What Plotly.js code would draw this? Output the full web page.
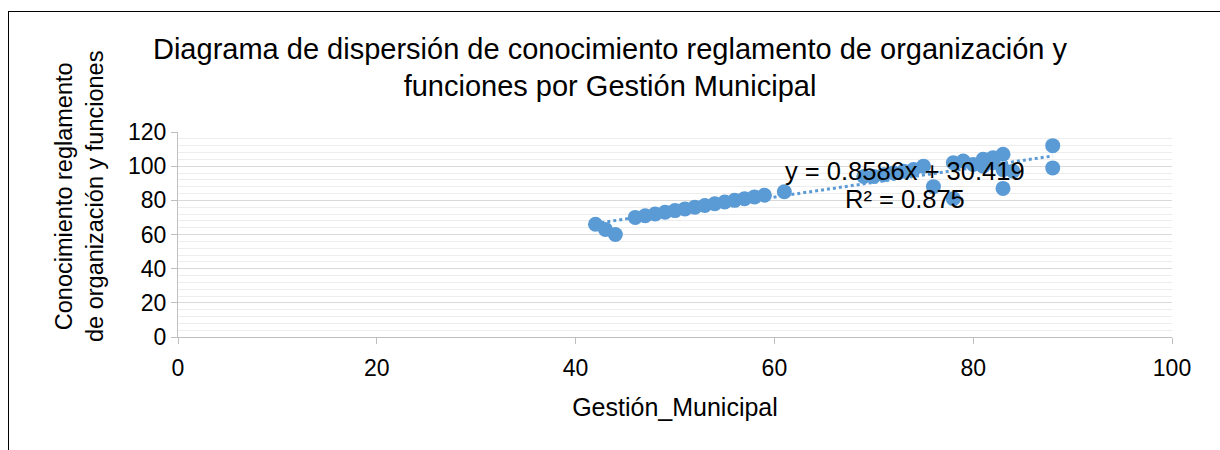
<!DOCTYPE html>
<html>
<head>
<meta charset="utf-8">
<script src="https://cdn.plot.ly/plotly-3.0.1.min.js"></script>
<style>
  html, body { margin: 0; padding: 0; background: #fff; }
  #chart { width: 1220px; height: 450px; }
  #frame { position: absolute; left: 8px; top: 11px; width: 1212px; height: 439px;
           border-left: 1.5px solid #000; border-top: 1.5px solid #000; pointer-events: none; }
</style>
</head>
<body>
<div id="chart"></div>
<div id="frame"></div>
<script>
// Data
const gestionMunicipal = [42, 43, 44, 46, 47, 48, 49, 50, 51, 52, 53, 54, 55, 56, 57, 58, 59, 61,
  69, 70, 71, 72, 73, 74, 75, 76, 78, 78, 79, 80, 81, 81, 82, 82, 83, 83, 83, 84, 88, 88];
const conocimientoROF = [66, 63, 60, 70, 71, 72, 73, 74, 75, 76, 77, 78, 79, 80, 81, 82, 83, 85,
  94, 94, 95, 96, 97, 98, 100, 88, 81, 102, 103, 101, 104, 100, 105, 102, 107, 98, 87, 97, 112, 99];
// Linear trendline coefficients shown on the chart
const trendSlope = 0.8586;
const trendIntercept = 30.419;
const trendR2 = 0.875;
const xTicks = [0, 20, 40, 60, 80, 100];
const yTicks = [0, 20, 40, 60, 80, 100, 120];

const xMin = Math.min(...gestionMunicipal);
const xMax = Math.max(...gestionMunicipal);
const trendX = [xMin, xMax];
const trendY = trendX.map(v => trendSlope * v + trendIntercept);

const blue = '#5B9BD5';
const fontFam = 'Liberation Sans, Arial, sans-serif';

const traces = [
  {
    x: gestionMunicipal, y: conocimientoROF, type: 'scatter', mode: 'markers',
    marker: { color: blue, size: 15, line: { width: 0 } },
    showlegend: false, hoverinfo: 'x+y'
  },
  {
    x: trendX, y: trendY, type: 'scatter', mode: 'lines',
    line: { color: blue, width: 3, dash: 'dot' },
    showlegend: false, hoverinfo: 'skip'
  }
];

const layout = {
  width: 1220, height: 450,
  margin: { l: 178, r: 48, t: 132, b: 113 },
  paper_bgcolor: '#fff', plot_bgcolor: '#fff',
  font: { family: fontFam, color: '#000' },
  title: {
    text: 'Diagrama de dispersión de conocimiento reglamento de organización y<br>funciones por Gestión Municipal',
    font: { family: fontFam, size: 29, color: '#000' },
    x: 0.5, xanchor: 'center', y: 0.87, yanchor: 'top'
  },
  xaxis: {
    range: [0, 100], tickvals: xTicks, ticktext: xTicks.map(String),
    showgrid: false, zeroline: false,
    showline: true, linecolor: '#BFBFBF', linewidth: 1,
    ticks: 'outside', ticklen: 6, tickcolor: '#BFBFBF',
    ticklabelstandoff: 4,
    tickfont: { family: fontFam, size: 23, color: '#000' },
    title: { text: 'Gestión_Municipal', font: { family: fontFam, size: 25, color: '#000' }, standoff: 18 }
  },
  yaxis: {
    range: [0, 120], tickvals: yTicks, ticktext: yTicks.map(String),
    showgrid: true, gridcolor: '#D9D9D9', gridwidth: 1.3,
    zeroline: false,
    showline: true, linecolor: '#BFBFBF', linewidth: 1,
    ticks: 'outside', ticklen: 6, tickcolor: '#BFBFBF',
    tickfont: { family: fontFam, size: 23, color: '#000' },
    minor: { dtick: 4, showgrid: true, gridcolor: '#EDEDED', gridwidth: 1, ticks: '' }
  },
  annotations: [
    {
      xref: 'paper', yref: 'paper', x: -0.0986, y: 0.688, xanchor: 'center', yanchor: 'middle',
      text: 'Conocimiento reglamento<br>de organización y funciones', textangle: -90,
      showarrow: false, font: { family: fontFam, size: 23.5, color: '#000' }
    },
    {
      xref: 'x', yref: 'y', x: 73.1, y: 97.2, xanchor: 'center', yanchor: 'middle',
      text: 'y = ' + trendSlope + 'x + ' + trendIntercept,
      showarrow: false, font: { family: fontFam, size: 25.5, color: '#000' }
    },
    {
      xref: 'x', yref: 'y', x: 73.1, y: 80.8, xanchor: 'center', yanchor: 'middle',
      text: 'R² = ' + trendR2,
      showarrow: false, font: { family: fontFam, size: 25.5, color: '#000' }
    }
  ]
};

Plotly.newPlot('chart', traces, layout, { staticPlot: true, displayModeBar: false });
</script>
</body>
</html>
